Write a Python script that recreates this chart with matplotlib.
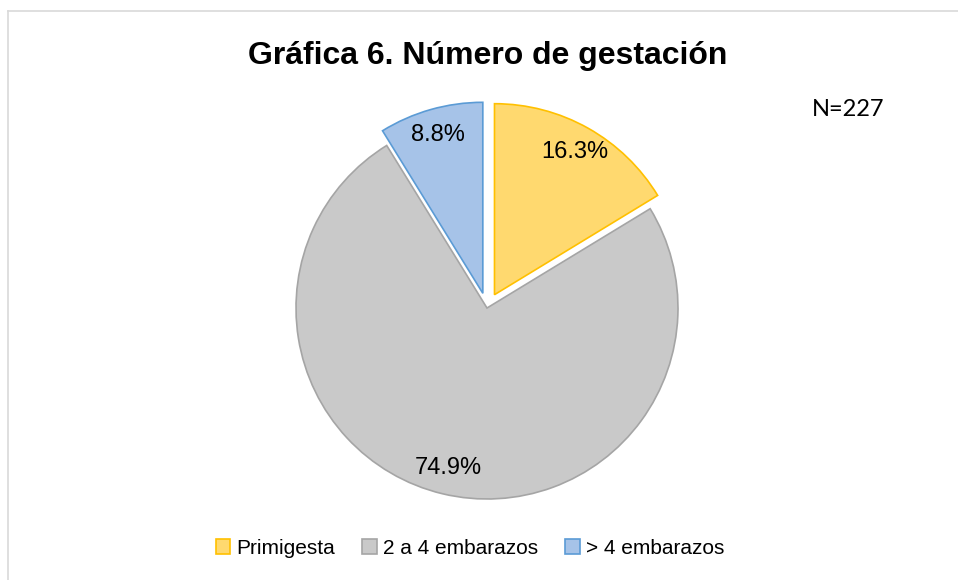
import matplotlib
matplotlib.use('Agg')
import matplotlib.pyplot as plt
from matplotlib.lines import Line2D

# Datos de la gráfica
categorias = ['Primigesta', '2 a 4 embarazos', '> 4 embarazos']
porcentajes = [16.3, 74.9, 8.8]
colores = ['#FFD96F', '#C9C9C9', '#A6C3E8']
bordes = ['#FFC000', '#A5A5A5', '#5B9BD5']
separacion = [0.08, 0.0, 0.08]
titulo = 'Gráfica 6. Número de gestación'
nota = 'N=227'

plt.rcParams['font.family'] = ['Liberation Sans', 'DejaVu Sans']

fig = plt.figure(figsize=(9.58, 5.8), dpi=100)

# Ejes del pastel (centro ~ (487, 308) px, radio ~191 px)
ax = fig.add_axes([0.2691, 0.0738, 0.4785, 0.7903])
cunas, textos, autotextos = ax.pie(
    porcentajes,
    colors=colores,
    explode=separacion,
    startangle=90,
    counterclock=False,
    autopct='%.1f%%',
    pctdistance=0.86,
    textprops={'fontsize': 17, 'color': 'black'},
    wedgeprops={'linewidth': 1.2},
)
for cuna, borde in zip(cunas, bordes):
    cuna.set_edgecolor(borde)
ax.set_xlim(-1.2, 1.2)
ax.set_ylim(-1.2, 1.2)
ax.set_aspect('equal')

# Título y anotación
fig.text(488 / 958, 1 - 64 / 580, titulo, ha='center', va='baseline',
         fontsize=23, fontweight='bold', color='black')
fig.text(812 / 958, 1 - 116 / 580, nota, ha='left', va='baseline',
         fontsize=17, family=['Lato', 'DejaVu Sans'], color='black')

# Leyenda
fig.legend(cunas, categorias, loc='center', bbox_to_anchor=(470 / 958, 1 - 548 / 580),
           ncol=3, frameon=False, fontsize=15, handlelength=0.7, handleheight=0.7,
           handletextpad=0.3, columnspacing=1.3)

# Borde del área del gráfico (sólo se ve arriba y a la izquierda)
fig.add_artist(Line2D([8 / 958, 1], [1 - 11 / 580, 1 - 11 / 580], color='#D9D9D9', linewidth=1.2))
fig.add_artist(Line2D([8 / 958, 8 / 958], [0, 1 - 11 / 580], color='#D9D9D9', linewidth=1.2))

fig.savefig('out.png', dpi=100, facecolor='white')
